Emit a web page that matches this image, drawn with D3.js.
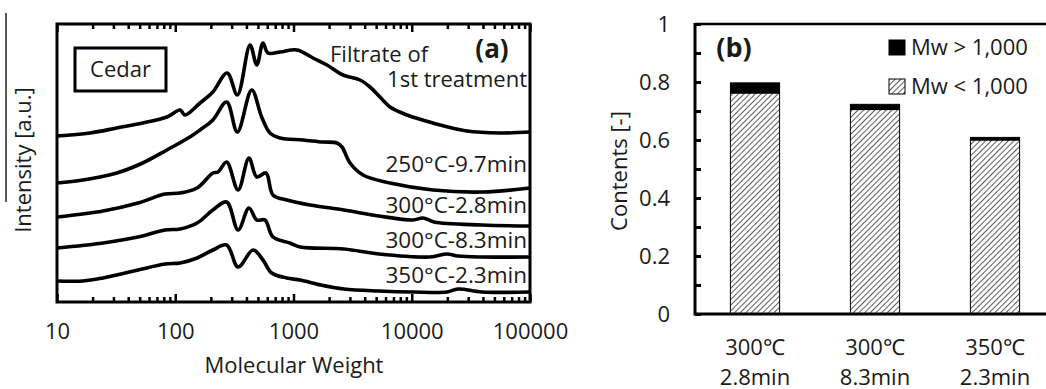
<!DOCTYPE html>
<html>
<head>
<meta charset="utf-8">
<script src="https://cdn.jsdelivr.net/npm/d3@7/dist/d3.min.js"></script>
<style>
  html, body { margin: 0; padding: 0; background: #fff; }
  svg text { font-family: "Open Sans", "Noto Sans", sans-serif; fill: #1a1a1a; }
</style>
</head>
<body>
<svg id="chart" width="1046" height="389"></svg>
<script>
// ---- panel (a): GPC traces, [molecular weight, intensity a.u.] ----
const filtrate = [[10,166],[19,169],[32,174],[53,179],[85,185],[110,192],[121,187],[162,199],[208,210],
  [275,229],[335,207],[429,257],[489,237],[552,259],[608,249],[769,250],[1071,252],[1462,244],[1919,237],
  [2624,227],[3650,222],[4437,215],[5385,205],[6545,195],[9120,187],[15130,179],[29310,171],[55740,169],
  [100000,170]];
const run250_97 = [[10,119],[16.6,122],[32,129],[53,139],[85,152],[133,165],[162,172],[208,182],[272,200],
  [335,170],[443,212],[538,185],[632,169],[769,164],[1203,162],[1775,160],[2332,159],[2572,155],[3006,139],
  [3870,127],[6545,119],[15130,112],[40090,110],[100000,114]];
const run300_28 = [[10,85],[24.5,91],[48.4,99],[82,108],[110,109],[153,114],[208,129],[230,130],[272,140],
  [340,112],[420,144],[489,125],[585,129],[671,107],[876,102],[1380,97],[2673,92],[5284,86],[10250,82],
  [12450,84],[15420,80],[39270,77],[100000,76]];
const run300_83 = [[10,54],[24.5,59],[48.4,65],[82,72],[110,73],[153,79],[208,92],[272,100],[340,72],
  [420,94],[489,82],[574,82],[671,65],[934,59],[1140,55],[2673,53],[5284,48],[14260,45],[19860,48],
  [24600,46],[39270,45],[100000,45]];
const run350_23 = [[10,21],[16.6,21],[24.5,24],[32,27],[48.4,32],[82,38],[110,39],[153,44],[208,52],
  [272,57],[340,35],[455,52],[552,42],[654,29],[876,24],[1140,22],[1700,17],[2673,13],[5284,11],
  [10250,10],[19860,10],[24600,13],[39270,10],[100000,10]];
const traces = [filtrate, run250_97, run300_28, run300_83, run350_23];
const traceLabels = ["250°C-9.7min", "300°C-2.8min", "300°C-8.3min", "350°C-2.3min"];
const mwTicks = [10, 100, 1000, 10000, 100000];

// ---- panel (b): contents by molecular weight ----
const samples = ["300℃|2.8min", "300℃|8.3min", "350℃|2.3min"];
const mwBelow = [0.762, 0.705, 0.600];
const mwAbove = [0.035, 0.018, 0.009];
const contentTicks = [0, 0.2, 0.4, 0.6, 0.8, 1];

const svg = d3.select('#chart');

// hatch for Mw < 1,000
const pat = svg.append('defs').append('pattern')
  .attr('id', 'hatch').attr('patternUnits', 'userSpaceOnUse')
  .attr('width', 4).attr('height', 4)
  .attr('patternTransform', 'rotate(45)');
pat.append('rect').attr('width', 4).attr('height', 4).attr('fill', '#fff');
pat.append('line').attr('x1', 0).attr('y1', 0).attr('x2', 0).attr('y2', 4)
  .style('stroke', '#333').style('stroke-width', 1.6);

// ================= panel (a) =================
const xA = d3.scaleLog().domain([10, 100000]).range([57, 530]);
const yA = d3.scaleLinear().domain([0, 278]).range([302, 24]);
const gA = svg.append('g');

// traces
const lineA = d3.line()
  .x(d => xA(d[0])).y(d => yA(d[1]))
  .curve(d3.curveCatmullRom.alpha(0.5));
gA.selectAll('path.trace').data(traces).join('path')
  .attr('class', 'trace')
  .attr('d', lineA)
  .style('fill', 'none').style('stroke', '#000')
  .style('stroke-width', 3.6).style('stroke-linejoin', 'round');

// labels in the plot
gA.append('rect').attr('x', 75).attr('y', 48).attr('width', 91).attr('height', 43)
  .style('fill', '#fff').style('stroke', '#000').style('stroke-width', 3);
gA.append('text').attr('x', 120.5).attr('y', 77).attr('text-anchor', 'middle')
  .style('font-size', '22px').text('Cedar');
gA.append('text').attr('x', 492).attr('y', 58).attr('text-anchor', 'middle')
  .style('font-size', '26px').style('font-weight', 'bold').text('(a)');
gA.append('text').attr('x', 330).attr('y', 62).style('font-size', '22px').text('Filtrate of');
gA.append('text').attr('x', 527).attr('y', 87).attr('text-anchor', 'end')
  .style('font-size', '22px').text('1st treatment');
const labelBase = [172, 213, 248, 283];
gA.selectAll('text.run').data(traceLabels).join('text')
  .attr('class', 'run')
  .attr('x', 527).attr('y', (d, i) => labelBase[i]).attr('text-anchor', 'end')
  .style('font-size', '22.5px').text(d => d);

gA.append('text').attr('transform', 'translate(31,160) rotate(-90)')
  .attr('text-anchor', 'middle').style('font-size', '22px').text('Intensity [a.u.]');
gA.append('line').attr('x1', 6).attr('x2', 6).attr('y1', 13).attr('y2', 202)
  .style('stroke', '#222').style('stroke-width', 1.5);
gA.append('text').attr('x', 294).attr('y', 373).attr('text-anchor', 'middle')
  .style('font-size', '22px').text('Molecular Weight');

// tick labels
const labA = gA.append('g').attr('transform', 'translate(0,302)')
  .call(d3.axisBottom(xA).tickValues(mwTicks).tickSize(0).tickPadding(21).tickFormat(d3.format('d')));
labA.select('.domain').remove();
labA.selectAll('text').style('font-size', '22px').style('fill', '#1a1a1a');

// inside ticks, bottom and top, then the frame
const minorA = xA.ticks().filter(v => !mwTicks.includes(v));
const tickA = gA.append('g');
tickA.append('g').attr('transform', 'translate(0,302)')
  .call(d3.axisBottom(xA).tickValues(minorA).tickSizeInner(-5).tickSizeOuter(0).tickFormat(''));
tickA.append('g').attr('transform', 'translate(0,302)')
  .call(d3.axisBottom(xA).tickValues(mwTicks).tickSizeInner(-8).tickSizeOuter(0).tickFormat(''));
tickA.append('g').attr('transform', 'translate(0,24)')
  .call(d3.axisTop(xA).tickValues(minorA).tickSizeInner(-5).tickSizeOuter(0).tickFormat(''));
tickA.append('g').attr('transform', 'translate(0,24)')
  .call(d3.axisTop(xA).tickValues(mwTicks).tickSizeInner(-8).tickSizeOuter(0).tickFormat(''));
tickA.selectAll('.domain').remove();
tickA.selectAll('.tick line').style('stroke', '#000').style('stroke-width', 2.5);
gA.append('rect').attr('x', 57).attr('y', 24).attr('width', 473).attr('height', 278)
  .style('fill', 'none').style('stroke', '#000').style('stroke-width', 3);

// ================= panel (b) =================
const xB = d3.scaleBand().domain(samples).range([695, 1055]).paddingInner(0.59).paddingOuter(0.295);
const yB = d3.scaleLinear().domain([0, 1]).range([314, 24]);
const gB = svg.append('g');

const rows = samples.map((s, i) => ({ s, below: mwBelow[i], above: mwAbove[i] }));
const stacked = d3.stack().keys(['below', 'above'])(rows);
const fills = { below: 'url(#hatch)', above: '#000' };

gB.selectAll('g.layer').data(stacked).join('g')
  .attr('class', 'layer')
  .selectAll('rect').data(d => d.map(v => Object.assign(v, { key: d.key }))).join('rect')
  .attr('x', d => xB(d.data.s))
  .attr('width', xB.bandwidth())
  .attr('y', d => yB(d[1]))
  .attr('height', d => yB(d[0]) - yB(d[1]))
  .style('fill', d => fills[d.key])
  .style('stroke', '#000').style('stroke-width', 1);

const labB = gB.append('g').attr('transform', 'translate(695,0)')
  .call(d3.axisLeft(yB).tickValues(contentTicks).tickSize(0).tickPadding(25).tickFormat(d3.format('')));
labB.select('.domain').remove();
labB.selectAll('text').style('font-size', '22px').style('fill', '#1a1a1a');

// category labels
const cat = gB.selectAll('text.cat').data(samples).join('text')
  .attr('class', 'cat')
  .attr('x', d => xB(d) + xB.bandwidth() / 2)
  .attr('text-anchor', 'middle').style('font-size', '22px');
cat.append('tspan').attr('y', 355).text(d => d.split('|')[0]);
cat.append('tspan').attr('x', d => xB(d) + xB.bandwidth() / 2).attr('y', 385).text(d => d.split('|')[1]);

gB.append('text').attr('transform', 'translate(627,171) rotate(-90)')
  .attr('text-anchor', 'middle').style('font-size', '22px').text('Contents [-]');
gB.append('text').attr('x', 734).attr('y', 57).attr('text-anchor', 'middle')
  .style('font-size', '27px').style('font-weight', 'bold').text('(b)');

// legend
const legend = [{ key: 'above', label: 'Mw > 1,000' }, { key: 'below', label: 'Mw < 1,000' }];
const lg = gB.selectAll('g.lg').data(legend).join('g')
  .attr('class', 'lg').attr('transform', (d, i) => `translate(889,${40 + i * 39})`);
lg.append('rect').attr('width', 16).attr('height', 15)
  .style('fill', d => fills[d.key]).style('stroke', '#000').style('stroke-width', 1);
lg.append('text').attr('x', 22).attr('y', 15).style('font-size', '22px').text(d => d.label);

// y ticks and frame lines of (b)
const tickB = gB.append('g').attr('transform', 'translate(695,0)')
  .call(d3.axisLeft(yB).ticks(10).tickSizeInner(-6).tickSizeOuter(0).tickFormat(''));
tickB.select('.domain').remove();
tickB.selectAll('.tick line').style('stroke', '#000').style('stroke-width', 3);
gB.append('line').attr('x1', 695).attr('x2', 1050).attr('y1', 24).attr('y2', 24)
  .style('stroke', '#000').style('stroke-width', 2.5);
gB.append('line').attr('x1', 695).attr('x2', 1050).attr('y1', 314).attr('y2', 314)
  .style('stroke', '#000').style('stroke-width', 3);
gB.append('line').attr('x1', 695).attr('x2', 695).attr('y1', 23).attr('y2', 315.5)
  .style('stroke', '#000').style('stroke-width', 3);
</script>
</body>
</html>
